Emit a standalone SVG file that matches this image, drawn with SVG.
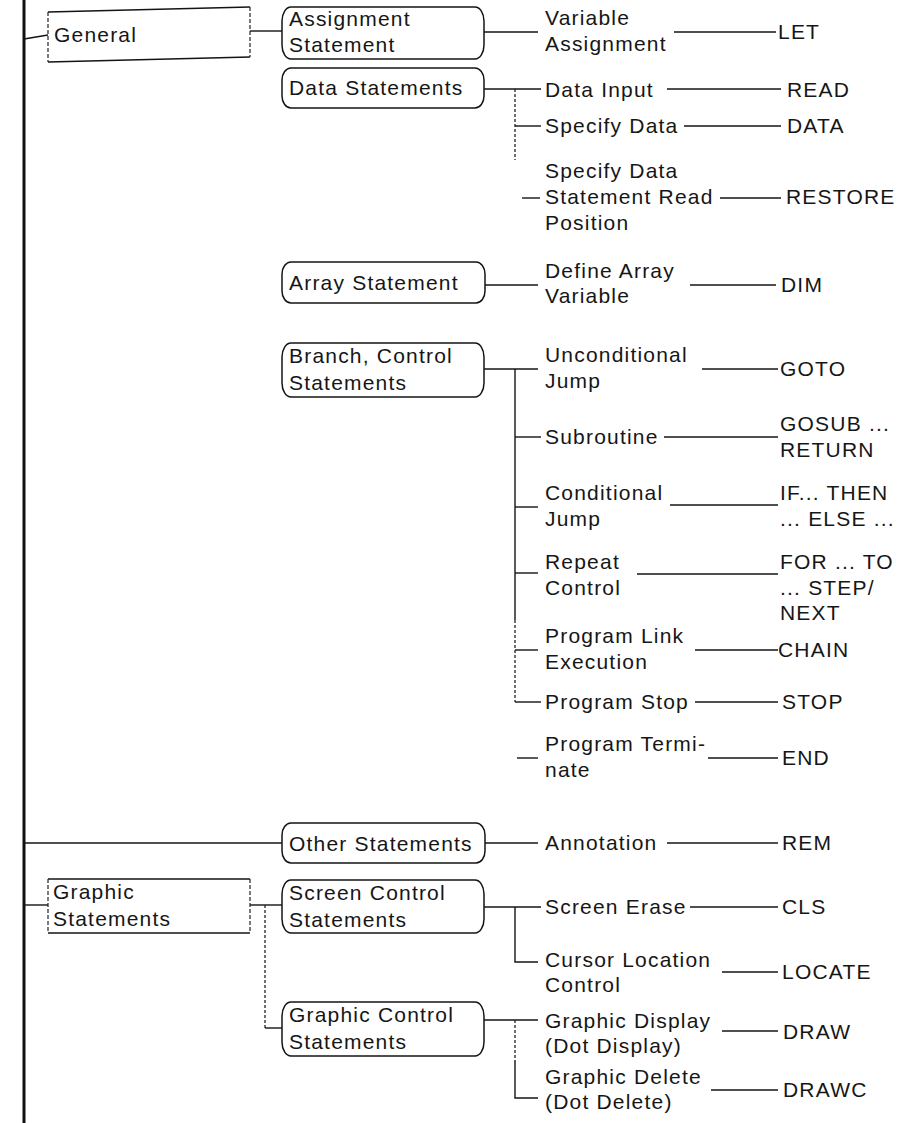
<svg xmlns="http://www.w3.org/2000/svg" width="916" height="1123" viewBox="0 0 916 1123">
<style>
text{font-family:"Liberation Sans",Arial,Helvetica,sans-serif;font-size:21px;letter-spacing:1.2px;fill:#161616}
.ln{stroke:#141414;stroke-width:1.4;fill:none}
.dt{stroke:#222;stroke-width:1.3;fill:none;stroke-dasharray:3 2}
.pill{fill:none;stroke:#141414;stroke-width:1.5}
.frame{fill:none;stroke:#141414;stroke-width:1.5}
.side{fill:none;stroke:#222;stroke-width:1.2;stroke-dasharray:4 2}
.spine{stroke:#111;stroke-width:3;fill:none}
</style>
<rect width="916" height="1123" fill="#fff"/>

<!-- tree connectors -->
<g id="connectors">
  <path class="spine" d="M24,0 V1123"/>
  <!-- level 1 -->
  <path class="ln" d="M24,39 L48,35"/>
  <path class="ln" d="M24,843 H282"/>
  <path class="ln" d="M24,905 H48"/>
  <!-- level 2 -->
  <path class="ln" d="M250,31 H282"/>
  <path class="ln" d="M250,905 H282"/>
  <path class="dt" d="M265,905 V1028"/>
  <path class="ln" d="M265,1028 H282"/>
  <!-- level 3 -->
  <path class="ln" d="M484,32 H538"/>
  <path class="ln" d="M484,89 H541"/>
  <path class="dt" d="M515,89 V160"/>
  <path class="ln" d="M515,126 H541"/>
  <path class="ln" d="M522,198 H540"/>
  <path class="ln" d="M485,285 H538"/>
  <path class="ln" d="M484,369 H538"/>
  <path class="ln" d="M515,369 V620"/>
  <path class="dt" d="M515,620 V702"/>
  <path class="ln" d="M515,437 H541"/>
  <path class="ln" d="M515,507 H538"/>
  <path class="ln" d="M515,573 H538"/>
  <path class="ln" d="M515,650 H538"/>
  <path class="ln" d="M515,702 H541"/>
  <path class="ln" d="M517,758 H538"/>
  <path class="ln" d="M485,843 H538"/>
  <path class="ln" d="M484,907 H541"/>
  <path class="ln" d="M515,907 V962 H538"/>
  <path class="ln" d="M484,1020 H538"/>
  <path class="dt" d="M515,1020 V1060"/>
  <path class="ln" d="M515,1060 V1098 H538"/>
  <!-- level 4 -->
  <path class="ln" d="M674,32 H776"/>
  <path class="ln" d="M667,89 H781"/>
  <path class="ln" d="M684,126 H781"/>
  <path class="ln" d="M720,198 H781"/>
  <path class="ln" d="M690,285 H776"/>
  <path class="ln" d="M702,369 H778"/>
  <path class="ln" d="M664,437 H778"/>
  <path class="ln" d="M670,505 H778"/>
  <path class="ln" d="M637,574 H778"/>
  <path class="ln" d="M695,650 H778"/>
  <path class="ln" d="M695,702 H778"/>
  <path class="ln" d="M708,758 H778"/>
  <path class="ln" d="M667,843 H778"/>
  <path class="ln" d="M690,907 H778"/>
  <path class="ln" d="M722,972 H778"/>
  <path class="ln" d="M722,1031 H778"/>
  <path class="ln" d="M711,1090 H778"/>
</g>

<!-- level 1 -->
<g id="n-general">
  <path class="frame" d="M48,12 L250,7 M48,62 L250,57"/>
  <path class="side" d="M48,12 V62 M250,7 V57"/>
  <text x="54" y="42">General</text>
</g>
<g id="n-graphic">
  <path class="frame" d="M48,879 H250 M48,933 H250"/>
  <path class="side" d="M48,879 V933 M250,879 V933"/>
  <text x="53" y="899">Graphic</text>
  <text x="53" y="926">Statements</text>
</g>

<!-- level 2 -->
<g id="n-assign">
  <rect class="pill" x="282" y="7" width="202" height="52" rx="9" ry="14"/>
  <text x="289" y="26">Assignment</text>
  <text x="289" y="52">Statement</text>
</g>
<g id="n-data">
  <rect class="pill" x="282" y="68" width="202" height="40" rx="9" ry="12"/>
  <text x="289" y="95">Data Statements</text>
</g>
<g id="n-array">
  <rect class="pill" x="282" y="262" width="203" height="41" rx="9" ry="12"/>
  <text x="289" y="290">Array Statement</text>
</g>
<g id="n-branch">
  <rect class="pill" x="282" y="343" width="202" height="54" rx="9" ry="14"/>
  <text x="289" y="363">Branch, Control</text>
  <text x="289" y="390">Statements</text>
</g>
<g id="n-other">
  <rect class="pill" x="282" y="823" width="203" height="40" rx="9" ry="12"/>
  <text x="289" y="851">Other Statements</text>
</g>
<g id="n-screen">
  <rect class="pill" x="282" y="880" width="202" height="53" rx="9" ry="14"/>
  <text x="289" y="900">Screen Control</text>
  <text x="289" y="927">Statements</text>
</g>
<g id="n-gcontrol">
  <rect class="pill" x="282" y="1002" width="202" height="54" rx="9" ry="14"/>
  <text x="289" y="1022">Graphic Control</text>
  <text x="289" y="1049">Statements</text>
</g>

<!-- level 3 -->
<g id="f-varassign"><text x="545" y="25">Variable</text><text x="545" y="51">Assignment</text></g>
<g id="f-datainput"><text x="545" y="97">Data Input</text></g>
<g id="f-specdata"><text x="545" y="133">Specify Data</text></g>
<g id="f-readpos"><text x="545" y="178">Specify Data</text><text x="545" y="204">Statement Read</text><text x="545" y="230">Position</text></g>
<g id="f-definearray"><text x="545" y="278">Define Array</text><text x="545" y="303">Variable</text></g>
<g id="f-uncond"><text x="545" y="362">Unconditional</text><text x="545" y="388">Jump</text></g>
<g id="f-subroutine"><text x="545" y="444">Subroutine</text></g>
<g id="f-cond"><text x="545" y="500">Conditional</text><text x="545" y="526">Jump</text></g>
<g id="f-repeat"><text x="545" y="569">Repeat</text><text x="545" y="595">Control</text></g>
<g id="f-link"><text x="545" y="643">Program Link</text><text x="545" y="669">Execution</text></g>
<g id="f-stop"><text x="545" y="709">Program Stop</text></g>
<g id="f-terminate"><text x="545" y="751">Program Termi-</text><text x="545" y="777">nate</text></g>
<g id="f-annotation"><text x="545" y="850">Annotation</text></g>
<g id="f-erase"><text x="545" y="914">Screen Erase</text></g>
<g id="f-locate"><text x="545" y="967">Cursor Location</text><text x="545" y="992">Control</text></g>
<g id="f-dotdisplay"><text x="545" y="1028">Graphic Display</text><text x="545" y="1053">(Dot Display)</text></g>
<g id="f-dotdelete"><text x="545" y="1084">Graphic Delete</text><text x="545" y="1109">(Dot Delete)</text></g>

<!-- level 4: keywords -->
<g id="k-let"><text x="778" y="39">LET</text></g>
<g id="k-read"><text x="787" y="97">READ</text></g>
<g id="k-data"><text x="787" y="133">DATA</text></g>
<g id="k-restore"><text x="786" y="204">RESTORE</text></g>
<g id="k-dim"><text x="781" y="292">DIM</text></g>
<g id="k-goto"><text x="780" y="376">GOTO</text></g>
<g id="k-gosub"><text x="780" y="431">GOSUB ...</text><text x="780" y="457">RETURN</text></g>
<g id="k-if"><text x="780" y="500">IF... THEN</text><text x="780" y="526">... ELSE ...</text></g>
<g id="k-for"><text x="780" y="569">FOR ... TO</text><text x="780" y="595">... STEP/</text><text x="780" y="620">NEXT</text></g>
<g id="k-chain"><text x="778" y="657">CHAIN</text></g>
<g id="k-stop"><text x="782" y="709">STOP</text></g>
<g id="k-end"><text x="782" y="765">END</text></g>
<g id="k-rem"><text x="782" y="850">REM</text></g>
<g id="k-cls"><text x="782" y="914">CLS</text></g>
<g id="k-locate"><text x="782" y="979">LOCATE</text></g>
<g id="k-draw"><text x="783" y="1039">DRAW</text></g>
<g id="k-drawc"><text x="783" y="1097">DRAWC</text></g>
</svg>
